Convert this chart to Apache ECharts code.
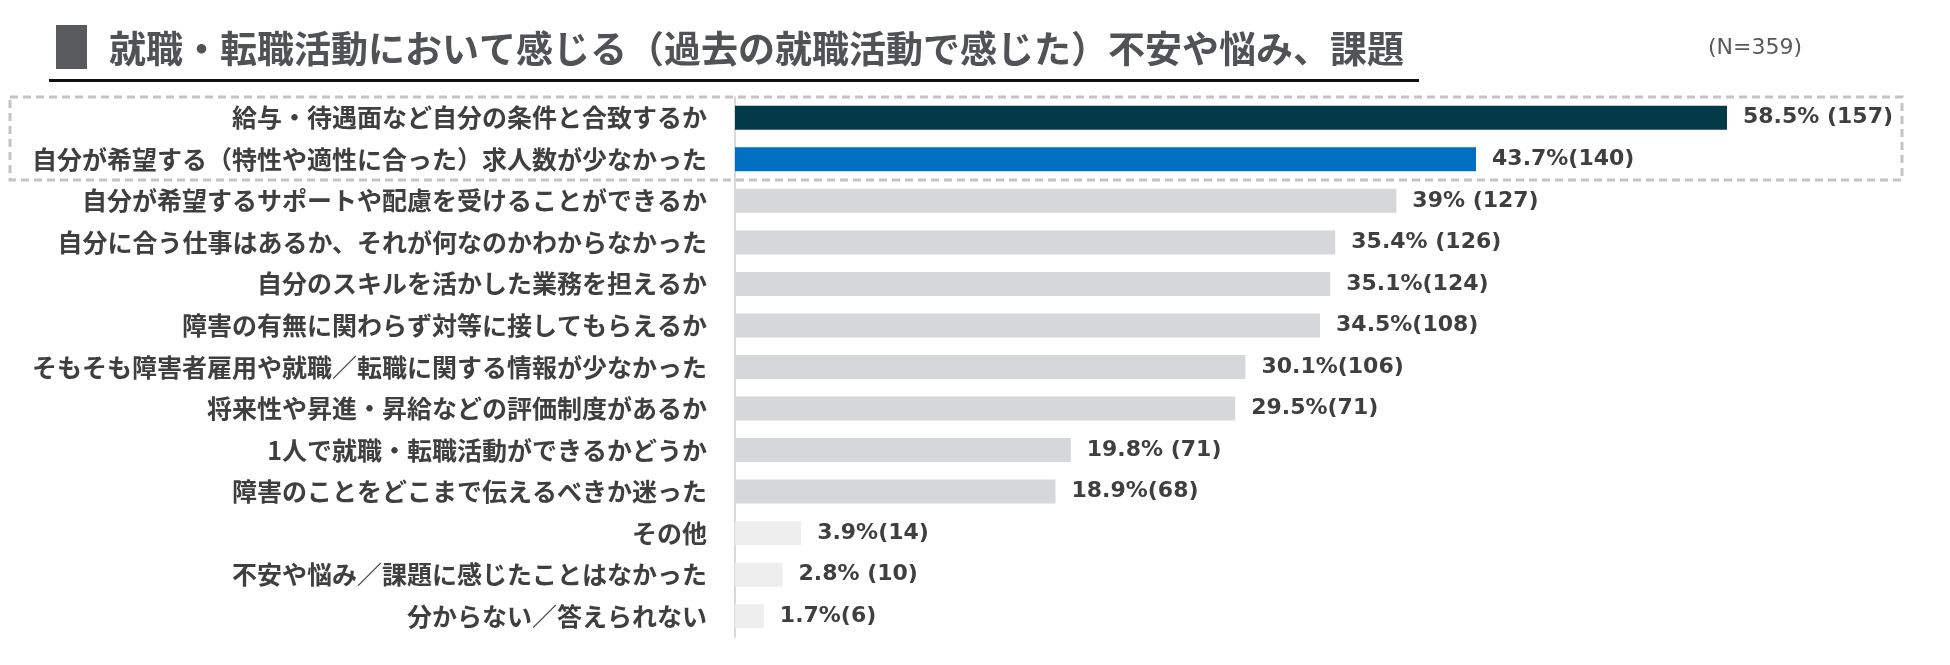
<!DOCTYPE html>
<html>
<head>
<meta charset="utf-8">
<script src="https://cdn.jsdelivr.net/npm/echarts@6/dist/echarts.min.js"></script>
<style>html,body{margin:0;padding:0;background:#fff}#c{width:1950px;height:665px}</style>
</head>
<body>
<div id="c"></div>
<script>
const titleText = '就職・転職活動において感じる（過去の就職活動で感じた）不安や悩み、課題';
const sampleText = '(N=359)';
const categories = [
  '給与・待遇面など自分の条件と合致するか',
  '自分が希望する（特性や適性に合った）求人数が少なかった',
  '自分が希望するサポートや配慮を受けることができるか',
  '自分に合う仕事はあるか、それが何なのかわからなかった',
  '自分のスキルを活かした業務を担えるか',
  '障害の有無に関わらず対等に接してもらえるか',
  'そもそも障害者雇用や就職／転職に関する情報が少なかった',
  '将来性や昇進・昇給などの評価制度があるか',
  '1人で就職・転職活動ができるかどうか',
  '障害のことをどこまで伝えるべきか迷った',
  'その他',
  '不安や悩み／課題に感じたことはなかった',
  '分からない／答えられない'
];
const values = [58.5, 43.7, 39, 35.4, 35.1, 34.5, 30.1, 29.5, 19.8, 18.9, 3.9, 2.8, 1.7];
const valueLabels = [
  '58.5% (157)', '43.7%(140)', '39% (127)', '35.4% (126)', '35.1%(124)', '34.5%(108)',
  '30.1%(106)', '29.5%(71)', '19.8% (71)', '18.9%(68)', '3.9%(14)', '2.8% (10)', '1.7%(6)'
];
const barColors = [
  '#023a49', '#0070c0', '#d6d7d9', '#d6d7d9', '#d6d7d9', '#d6d7d9', '#d6d7d9',
  '#d6d7d9', '#d6d7d9', '#d6d7d9', '#eeeeee', '#eeeeee', '#eeeeee'
];

const chart = echarts.init(document.getElementById('c'));
const jp = '"Noto Sans CJK JP", "Noto Sans", sans-serif';
chart.setOption({
  animation: false,
  backgroundColor: '#ffffff',
  title: {
    text: titleText,
    left: 104,
    top: 25,
    textStyle: { fontSize: 37, fontWeight: 'bold', color: '#505256', fontFamily: jp, lineHeight: 37 }
  },
  graphic: [
    { type: 'rect', shape: { x: 56, y: 25, width: 31, height: 44 }, style: { fill: '#595a5e' } },
    { type: 'rect', shape: { x: 49, y: 79, width: 1370, height: 3 }, style: { fill: '#111111' } },
    { type: 'text', x: 1708, y: 48, style: { text: sampleText, fontSize: 22, fill: '#595959', fontFamily: '"DejaVu Sans", sans-serif', verticalAlign: 'middle' } },
    { type: 'rect', z: 10, shape: { x: 10, y: 97, width: 1892, height: 83 }, style: { fill: 'none', stroke: '#c4c4c4', lineWidth: 3, lineDash: [8, 5] } }
  ],
  grid: { left: 735, top: 97, bottom: 28, right: 28, containLabel: false },
  xAxis: {
    type: 'value', min: 0, max: 70, show: false,
    splitLine: { show: false }
  },
  yAxis: {
    type: 'category', data: categories, inverse: true,
    axisLine: { show: true, lineStyle: { color: '#d9d9d9', width: 2 } },
    axisTick: { show: false },
    axisLabel: { margin: 28, fontSize: 25, fontWeight: 'bold', color: '#3f3f3f', fontFamily: jp }
  },
  series: [{
    type: 'bar',
    barWidth: 24,
    data: values.map((v, i) => ({ value: v, itemStyle: { color: barColors[i] } })),
    label: {
      show: true, position: 'right', distance: 16,
      formatter: p => valueLabels[p.dataIndex],
      fontSize: 22, fontWeight: 'bold', color: '#3f3f3f',
      fontFamily: '"DejaVu Sans", "Noto Sans CJK JP", sans-serif'
    }
  }]
});
</script>
</body>
</html>
